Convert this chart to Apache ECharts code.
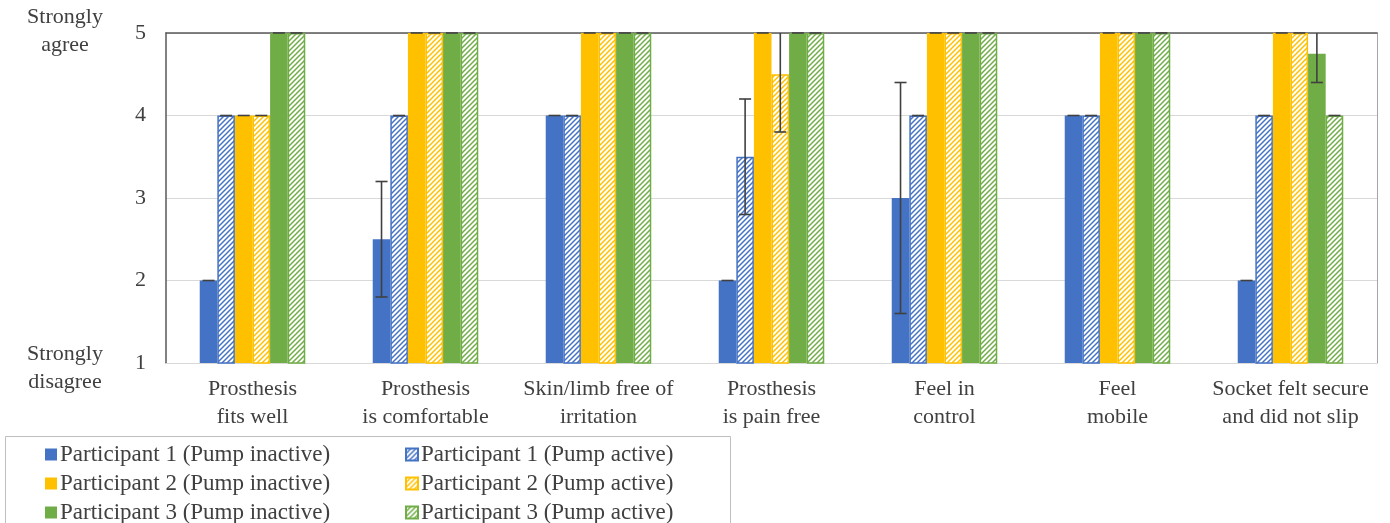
<!DOCTYPE html>
<html>
<head>
<meta charset="utf-8">
<script src="https://cdn.jsdelivr.net/npm/echarts@6/dist/echarts.min.js"></script>
<style>
html,body{margin:0;padding:0;background:#fff;}
#chart{width:1390px;height:523px;}
</style>
</head>
<body>
<div id="chart"></div>
<script>
const categories = [
  "Prosthesis\nfits well",
  "Prosthesis\nis comfortable",
  "Skin/limb free of\nirritation",
  "Prosthesis\nis pain free",
  "Feel in\ncontrol",
  "Feel\nmobile",
  "Socket felt secure\nand did not slip"
];
const seriesNames = [
  "Participant 1 (Pump inactive)",
  "Participant 1 (Pump active)",
  "Participant 2 (Pump inactive)",
  "Participant 2 (Pump active)",
  "Participant 3 (Pump inactive)",
  "Participant 3 (Pump active)"
];
const p1Inactive = [2, 2.5, 4, 2, 3, 4, 2];
const p1Active   = [4, 4, 4, 3.5, 4, 4, 4];
const p2Inactive = [4, 5, 5, 5, 5, 5, 5];
const p2Active   = [4, 5, 5, 4.5, 5, 5, 5];
const p3Inactive = [5, 5, 5, 5, 5, 5, 4.75];
const p3Active   = [5, 5, 5, 5, 5, 5, 4];
const p1InactiveErr = [0, 0.7, 0, 0, 1.4, 0, 0];
const p1ActiveErr   = [0, 0, 0, 0.7, 0, 0, 0];
const p2InactiveErr = [0, 0, 0, 0, 0, 0, 0];
const p2ActiveErr   = [0, 0, 0, 0.7, 0, 0, 0];
const p3InactiveErr = [0, 0, 0, 0, 0, 0, 0.35];
const p3ActiveErr   = [0, 0, 0, 0, 0, 0, 0];
const yTickValues = [1, 2, 3, 4, 5];

const values = [p1Inactive, p1Active, p2Inactive, p2Active, p3Inactive, p3Active];
const errors = [p1InactiveErr, p1ActiveErr, p2InactiveErr, p2ActiveErr, p3InactiveErr, p3ActiveErr];
const colors = ['#4472C4', '#4472C4', '#FFC000', '#FFC000', '#70AD47', '#70AD47'];
const hatched = [false, true, false, true, false, true];
const FONT = "'Liberation Serif', 'Times New Roman', serif";
const TXT = '#404040';
const catGap = 0.39;
const yMin = yTickValues[0], yMax = yTickValues[yTickValues.length - 1];

function hatch(color) {
  const c = document.createElement('canvas');
  const s = 5;
  c.width = s; c.height = s;
  const g = c.getContext('2d');
  g.fillStyle = '#fff';
  g.fillRect(0, 0, s, s);
  g.strokeStyle = color;
  g.lineWidth = 1.5;
  g.beginPath();
  g.moveTo(0, s); g.lineTo(s, 0);
  g.moveTo(-1, 1); g.lineTo(1, -1);
  g.moveTo(s - 1, s + 1); g.lineTo(s + 1, s - 1);
  g.stroke();
  return c;
}

const series = [];
values.forEach((vals, k) => {
  const itemStyle = hatched[k]
    ? { color: { image: hatch(colors[k]), repeat: 'repeat' }, borderColor: colors[k], borderWidth: 1.5 }
    : { color: colors[k] };
  series.push({
    name: seriesNames[k],
    type: 'bar',
    data: vals,
    barGap: '0%',
    barCategoryGap: (catGap * 100) + '%',
    itemStyle: itemStyle,
    emphasis: { disabled: true }
  });
});
values.forEach((vals, k) => {
  series.push({
    type: 'custom',
    silent: true,
    z: 10,
    data: vals.map((v, i) => [i, v, errors[k][i]]),
    encode: { x: 0, y: 1 },
    renderItem: function (params, api) {
      const ci = api.value(0), v = api.value(1), e = api.value(2);
      const band = api.size([1, 0])[0];
      const barW = band * (1 - catGap) / 6;
      const cx = api.coord([ci, v])[0] + (k - 2.5) * barW;
      const hw = 6;
      const st = { stroke: '#404040', lineWidth: 1.6 };
      const up = v + e, lo = v - e;
      const children = [];
      if (e > 0) {
        const yTop = api.coord([ci, Math.min(up, yMax)])[1];
        const yBot = api.coord([ci, lo])[1];
        children.push({ type: 'line', shape: { x1: cx, y1: yTop, x2: cx, y2: yBot }, style: st });
        children.push({ type: 'line', shape: { x1: cx - hw, y1: yBot, x2: cx + hw, y2: yBot }, style: st });
        if (up <= yMax) children.push({ type: 'line', shape: { x1: cx - hw, y1: yTop, x2: cx + hw, y2: yTop }, style: st });
      } else {
        const y = api.coord([ci, v])[1];
        children.push({ type: 'line', shape: { x1: cx - hw, y1: y, x2: cx + hw, y2: y }, style: st });
      }
      return { type: 'group', children: children };
    }
  });
});

const legendData1 = [seriesNames[0], seriesNames[2], seriesNames[4]];
const legendData2 = [seriesNames[1], seriesNames[3], seriesNames[5]];
const legendCommon = {
  orient: 'vertical', top: 443, height: 200, padding: 0, itemGap: 6,
  itemWidth: 12, itemHeight: 12, icon: 'rect',
  selectedMode: false,
  textStyle: { fontFamily: FONT, fontSize: 23, color: TXT, lineHeight: 22, padding: [0, 0, 0, -2] }
};

const chart = echarts.init(document.getElementById('chart'), null, { renderer: 'canvas' });
chart.setOption({
  animation: false,
  backgroundColor: '#fff',
  grid: { left: 166, right: 13, top: 33, bottom: 160, containLabel: false },
  legend: [
    Object.assign({}, legendCommon, { left: 45, data: legendData1 }),
    Object.assign({}, legendCommon, { left: 405, data: legendData2 })
  ],
  graphic: [
    { type: 'rect', shape: { x: 5.5, y: 436.5, width: 725, height: 100 },
      style: { fill: 'none', stroke: '#bfbfbf', lineWidth: 1 }, silent: true },
    { type: 'text', style: { text: 'Strongly\nagree', x: 65, y: 3, textAlign: 'center',
      textVerticalAlign: 'top', font: '22px ' + FONT, fill: TXT, lineHeight: 28 } },
    { type: 'text', style: { text: 'Strongly\ndisagree', x: 65, y: 340, textAlign: 'center',
      textVerticalAlign: 'top', font: '22px ' + FONT, fill: TXT, lineHeight: 28 } }
  ],
  xAxis: [
    {
      type: 'category', data: categories, position: 'bottom',
      axisLine: { show: true, lineStyle: { color: '#d9d9d9', width: 1 } },
      axisTick: { show: false },
      axisLabel: { interval: 0, fontFamily: FONT, fontSize: 22, color: TXT, lineHeight: 28, margin: 12 },
      splitLine: { show: false }
    },
    {
      type: 'category', data: categories, position: 'top',
      axisLine: { show: true, lineStyle: { color: '#595959', width: 1.5 } },
      axisTick: { show: false }, axisLabel: { show: false }, splitLine: { show: false }
    }
  ],
  yAxis: [
    {
      type: 'value', min: yMin, max: yMax, interval: 1, position: 'left',
      axisLine: { show: true, lineStyle: { color: '#595959', width: 1.5 } },
      axisTick: { show: false },
      axisLabel: { fontFamily: FONT, fontSize: 22, color: TXT, margin: 20 },
      splitLine: { show: true, lineStyle: { color: '#d9d9d9', width: 1 } }
    },
    {
      type: 'value', min: yMin, max: yMax, interval: 1, position: 'right',
      axisLine: { show: true, lineStyle: { color: '#a6a6a6', width: 1 } },
      axisTick: { show: false }, axisLabel: { show: false }, splitLine: { show: false }
    }
  ],
  series: series
});
</script>
</body>
</html>
